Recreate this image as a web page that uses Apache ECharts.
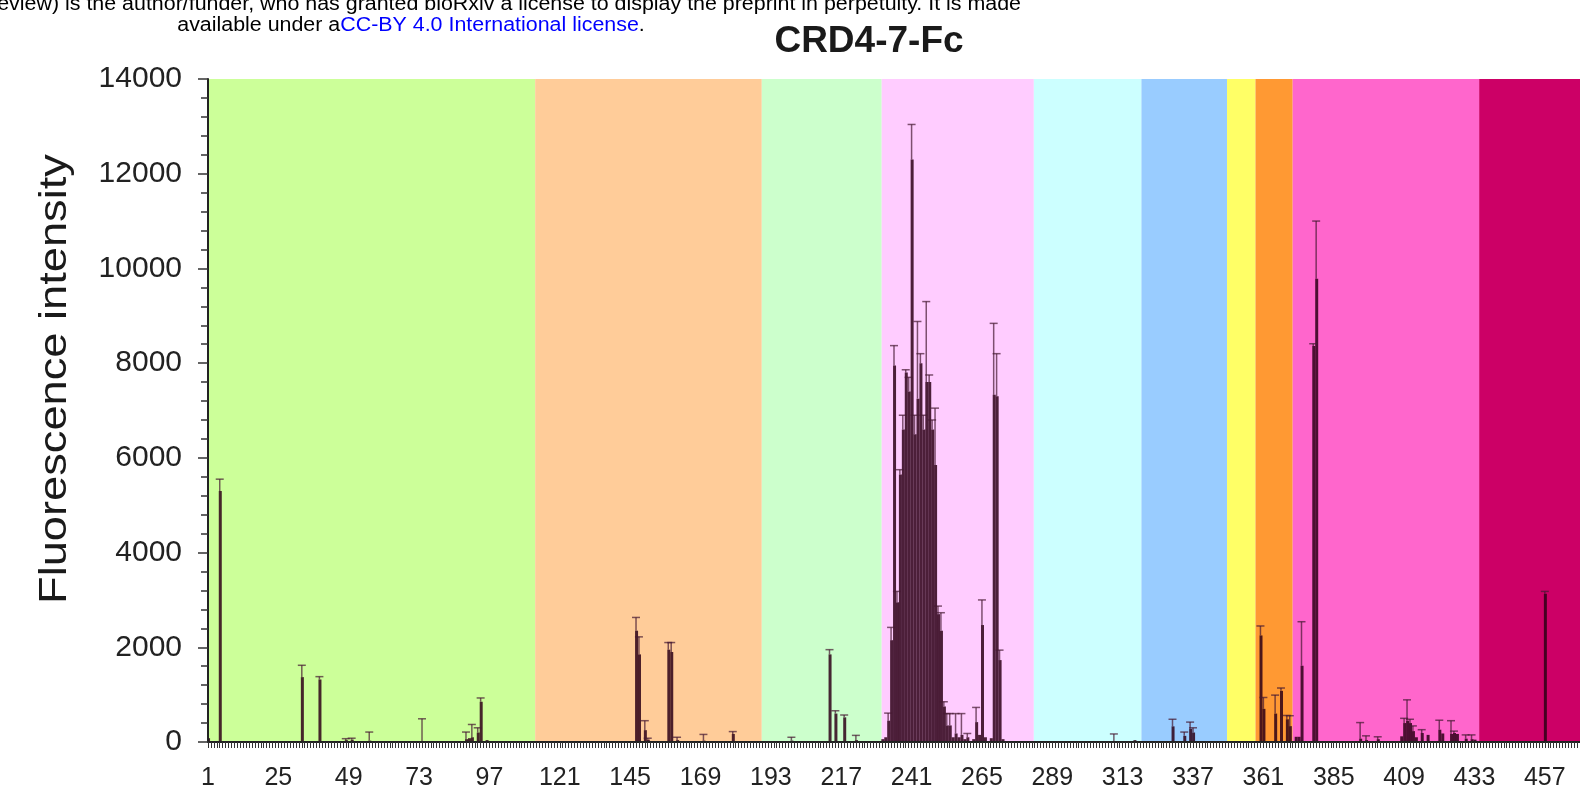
<!DOCTYPE html>
<html>
<head>
<meta charset="utf-8">
<title>CRD4-7-Fc</title>
<script src="https://cdn.jsdelivr.net/npm/echarts@6.0.0/dist/echarts.min.js"></script>
<style>
  html, body { margin: 0; padding: 0; background: #fff; }
  #chart { width: 1580px; height: 792px; }
</style>
</head>
<body>
<div id="chart"></div>
<script>
// glycan number (1-based) of each bar that rises above the baseline
const barPos = [1, 5, 33, 39, 48, 50, 56, 74, 89, 90, 91, 93, 94, 96,
  147, 148, 150, 151, 158, 159, 161, 170, 180,
  197, 200, 213, 215, 218, 222,
  231, 232, 233, 234, 235, 236, 237, 238, 239, 240, 241, 242, 243, 244, 245, 246, 247, 248, 249,
  250, 251, 252, 253, 254, 255, 256, 257, 258, 259, 260, 262, 263, 264, 265, 266, 268, 269, 270, 271, 272,
  310, 317, 330, 334, 336, 337,
  360, 361, 365, 367, 369, 370, 372, 373, 374, 378, 379,
  394, 396, 400, 408, 409, 410, 411, 412, 413, 415, 417, 421, 422, 425, 426, 427, 430, 432, 433,
  457];
// mean fluorescence intensity
const barVal = [80, 5300, 1370, 1320, 40, 50, 30, 20, 60, 80, 100, 200, 850, 40,
  2350, 1850, 250, 50, 1950, 1900, 40, 30, 170,
  20, 30, 1850, 600, 520, 40,
  60, 100, 450, 2150, 7950, 2950, 5650, 6600, 7800, 7400, 12300, 6500, 7250, 8000, 6600, 7600, 7600, 6600, 5850,
  2700, 2350, 750, 350, 350, 100, 180, 100, 150, 60, 100, 60, 420, 150, 2470, 100, 80, 7330, 7300, 1730, 60,
  20, 40, 330, 130, 280, 200,
  2250, 700, 600, 1080, 480, 335, 110, 110, 1610, 8360, 9780,
  70, 40, 60, 120, 400, 450, 400, 230, 100, 190, 150, 260, 180, 170, 190, 170, 70, 60, 50,
  3130];
// error (upper whisker length)
const barErr = [0, 250, 250, 60, 30, 30, 180, 470, 150, 0, 270, 100, 80, 0,
  280, 370, 200, 30, 150, 200, 60, 130, 50,
  0, 70, 100, 60, 50, 100,
  0, 0, 160, 270, 420, 230, 100, 300, 60, 300, 740, 400, 1630, 200, 300, 1700, 150, 200, 1200,
  170, 380, 100, 250, 250, 0, 420, 0, 450, 0, 80, 0, 310, 0, 530, 0, 0, 1510, 900, 210, 0,
  150, 0, 150, 80, 140, 100,
  200, 240, 390, 60, 80, 220, 0, 0, 930, 50, 1220,
  340, 90, 50, 0, 100, 440, 80, 110, 0, 70, 0, 200, 0, 280, 40, 0, 80, 90, 0,
  50];

// background glycan class bands, in glycan numbers
const bandEdges = [1, 112.6, 189.9, 230.8, 282.7, 319.4, 348.6, 358.3, 371, 434.6, 469];
const bandColors = ['#ccff99', '#ffcc99', '#ccffcc', '#ffccff', '#ccffff',
  '#99ccff', '#ffff66', '#ff9933', '#ff66cc', '#cc0066'];

const yTicks = { min: 0, max: 14000, step: 2000 };
const xTicks = { min: 1, max: 469, step: 24 };

const headerLine1 = 'The copyright holder for this preprint (which was not certified by peer review) is the author/funder, who has granted bioRxiv a license to display the preprint in perpetuity. It is made';

const font = '"Liberation Sans", Arial, sans-serif';

const bars = barPos.map((p, i) => [p - 1, barVal[i]]);
const errs = [];
barPos.forEach((p, i) => {
  if (barErr[i] > 0) errs.push([p - 1, barVal[i], barVal[i] + barErr[i]]);
});
const bands = bandColors.map((c, i) => [
  { xAxis: bandEdges[i] - 1, itemStyle: { color: c, opacity: 1 } },
  { xAxis: bandEdges[i + 1] - 1 }
]);

const chart = echarts.init(document.getElementById('chart'));

chart.setOption({
  animation: false,
  backgroundColor: '#fff',
  grid: { left: 208, right: 0, top: 79, bottom: 50, containLabel: false },
  xAxis: {
    type: 'value',
    min: xTicks.min - 1,
    max: xTicks.max - 1,
    interval: xTicks.step,
    z: 10,
    splitLine: { show: false },
    axisLine: { show: true, onZero: false, lineStyle: { color: '#222', width: 2 } },
    axisTick: { show: true, length: 6, lineStyle: { color: '#333', width: 1 } },
    minorTick: { show: true, splitNumber: 24, length: 6, lineStyle: { color: '#333', width: 1 } },
    axisLabel: {
      margin: 24,
      fontSize: 25,
      fontFamily: font,
      color: '#222',
      showMaxLabel: false,
      formatter: v => String(v + 1)
    }
  },
  yAxis: {
    type: 'value',
    min: yTicks.min,
    max: yTicks.max,
    interval: yTicks.step,
    z: 10,
    splitLine: { show: false },
    axisLine: { show: true, lineStyle: { color: '#222', width: 2 } },
    axisTick: { show: true, length: 10, lineStyle: { color: '#333', width: 1.5 } },
    minorTick: { show: true, splitNumber: 5, length: 7, lineStyle: { color: '#333', width: 1.5 } },
    axisLabel: { margin: 26, fontSize: 30, fontFamily: font, color: '#222', formatter: v => String(v) }
  },
  graphic: [
    {
      type: 'text', x: 1021, y: 4, scaleX: 1.07,
      style: { text: headerLine1, fill: '#000', fontSize: 20, fontFamily: font, align: 'right', verticalAlign: 'middle' }
    },
    {
      type: 'text', x: 411, y: 25, scaleX: 1.07,
      style: {
        text: '{k|available under a}{b|CC-BY 4.0 International license}{k|.}',
        fontSize: 20, fontFamily: font, align: 'center', verticalAlign: 'middle',
        rich: { k: { fill: '#000', fontSize: 20, fontFamily: font }, b: { fill: '#0000ff', fontSize: 20, fontFamily: font } }
      }
    },
    {
      type: 'text', x: 869, y: 42,
      style: { text: 'CRD4-7-Fc', fill: '#1a1a1a', fontSize: 37, fontWeight: 'bold', fontFamily: font, align: 'center', verticalAlign: 'middle' }
    },
    {
      type: 'text', x: 56, y: 379, rotation: Math.PI / 2, scaleX: 1.19,
      style: { text: 'Fluorescence intensity', fill: '#1a1a1a', fontSize: 38, fontFamily: font, align: 'center', verticalAlign: 'middle' }
    }
  ],
  series: [
    {
      name: 'bands',
      type: 'bar',
      data: [],
      z: 1,
      silent: true,
      markArea: { silent: true, data: bands }
    },
    {
      name: 'intensity',
      type: 'bar',
      data: bars,
      barWidth: 3,
      z: 3,
      itemStyle: { color: 'rgba(45, 0, 22, 0.85)' }
    },
    {
      name: 'error',
      type: 'custom',
      data: errs,
      z: 4,
      renderItem: function (params, api) {
        const lo = api.coord([api.value(0), api.value(1)]);
        const hi = api.coord([api.value(0), api.value(2)]);
        const stroke = 'rgba(70, 25, 50, 0.7)';
        return {
          type: 'group',
          children: [
            { type: 'line', shape: { x1: lo[0], y1: lo[1], x2: hi[0], y2: hi[1] }, style: { stroke: stroke, lineWidth: 1.5 } },
            { type: 'line', shape: { x1: hi[0] - 4, y1: hi[1], x2: hi[0] + 4, y2: hi[1] }, style: { stroke: stroke, lineWidth: 1.5 } }
          ]
        };
      }
    }
  ]
});
</script>
</body>
</html>
